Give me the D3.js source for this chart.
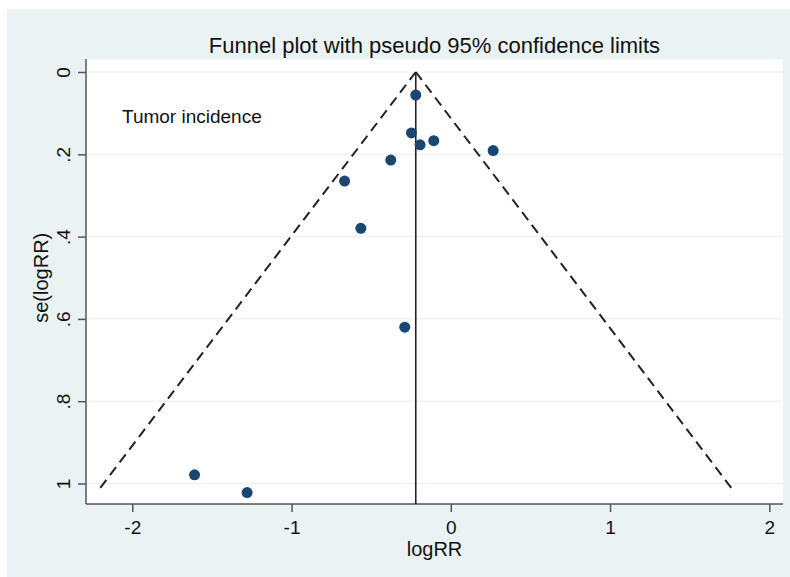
<!DOCTYPE html>
<html>
<head>
<meta charset="utf-8">
<script src="https://cdn.jsdelivr.net/npm/d3@7/dist/d3.min.js"></script>
<style>
  html, body { margin: 0; padding: 0; background: #ffffff; }
  svg { display: block; }
  text { font-family: "Liberation Sans", Arial, sans-serif; fill: #111; }
</style>
</head>
<body>
<svg id="chart" width="790" height="577"></svg>
<script>
// ---- data ----
const logRR   = [-0.22, -0.247, -0.193, -0.107, 0.266, -0.377, -0.667, -0.565, -0.289, -1.609, -1.279];
const seLogRR = [0.056, 0.148, 0.177, 0.167, 0.191, 0.214, 0.265, 0.380, 0.620, 0.979, 1.022];
const pooled  = -0.22;
const xTicks  = [-2, -1, 0, 1, 2];
const yTicks  = [0, 0.2, 0.4, 0.6, 0.8, 1];
const titleText = "Funnel plot with pseudo 95% confidence limits";
const noteText  = "Tumor incidence";
const xLabel = "logRR";
const yLabel = "se(logRR)";

const svg = d3.select("#chart");
const W = 790, H = 577;
const plot = { left: 86, right: 783, top: 59, bottom: 504 };

// outer background
svg.append("rect").attr("x", 7).attr("y", 9).attr("width", W - 7).attr("height", H - 9)
  .attr("fill", "#eaf2f3");
// plot region
svg.append("rect").attr("x", plot.left).attr("y", plot.top)
  .attr("width", plot.right - plot.left).attr("height", plot.bottom - plot.top)
  .attr("fill", "#ffffff");

const x = d3.scaleLinear().domain([-2, 2]).range([132.3, 769.3]);
const y = d3.scaleLinear().domain([0, 1]).range([72, 483.5]);

const fmt = v => {
  if (v === 0) return "0";
  let s = String(+v.toFixed(2));
  s = s.replace(/^(-?)0\./, "$1.");
  return s;
};

// gridlines
svg.append("g").selectAll("line").data(yTicks).join("line")
  .attr("x1", plot.left + 1).attr("x2", plot.right)
  .attr("y1", d => y(d)).attr("y2", d => y(d))
  .attr("stroke", "#eaf2f3").attr("stroke-width", 1.2);

// axes
const xAxis = svg.append("g").attr("transform", `translate(0,${plot.bottom})`)
  .call(d3.axisBottom(x).tickValues(xTicks).tickFormat(fmt).tickSize(8).tickPadding(9));
xAxis.select(".domain").attr("d", `M${plot.left},0H${plot.right}`).attr("stroke", "#555").attr("stroke-width", 1.5);
xAxis.selectAll(".tick line").attr("stroke", "#555").attr("stroke-width", 1.5);
xAxis.selectAll(".tick text").attr("font-size", 19).attr("fill", "#111")
  .attr("font-family", "Liberation Sans, Arial, sans-serif");

const yAxis = svg.append("g").attr("transform", `translate(${plot.left},0)`)
  .call(d3.axisLeft(y).tickValues(yTicks).tickFormat(fmt).tickSize(8).tickPadding(6));
yAxis.select(".domain").attr("d", `M0,${plot.top}V${plot.bottom}`).attr("stroke", "#555").attr("stroke-width", 1.5);
yAxis.selectAll(".tick line").attr("stroke", "#555").attr("stroke-width", 1.5);
yAxis.selectAll(".tick text")
  .attr("font-size", 19).attr("fill", "#111")
  .attr("font-family", "Liberation Sans, Arial, sans-serif")
  .attr("text-anchor", "middle").attr("dy", null).attr("x", null)
  .attr("transform", "translate(-23,0) rotate(-90)")
  .attr("dominant-baseline", "central");

// funnel lines
const seMax = d3.max(seLogRR);
const funnelL = [[pooled, 0], [pooled - 1.96 * seMax, seMax]];
const funnelR = [[pooled, 0], [pooled + 1.96 * seMax, seMax]];
const line = d3.line().x(d => x(d[0])).y(d => y(d[1]));
[funnelL, funnelR].forEach(f => {
  svg.append("path").attr("d", line(f)).attr("fill", "none")
    .attr("stroke", "#222").attr("stroke-width", 2).attr("stroke-dasharray", "10,6");
});
// pooled vertical line
svg.append("line").attr("x1", x(pooled)).attr("x2", x(pooled))
  .attr("y1", y(0)).attr("y2", plot.bottom).attr("stroke", "#222").attr("stroke-width", 1.6);

// points
svg.append("g").selectAll("circle").data(logRR.map((v, i) => [v, seLogRR[i]])).join("circle")
  .attr("cx", d => x(d[0])).attr("cy", d => y(d[1])).attr("r", 5.5)
  .attr("fill", "#1a476f");

// texts
const cx = (plot.left + plot.right) / 2;
svg.append("text").attr("x", cx).attr("y", 53).attr("text-anchor", "middle")
  .attr("font-size", 22).text(titleText);
svg.append("text").attr("x", 122).attr("y", 123).attr("font-size", 19).text(noteText);
svg.append("text").attr("x", cx).attr("y", 556).attr("text-anchor", "middle")
  .attr("font-size", 20).text(xLabel);
svg.append("text").attr("transform", `translate(48,${(y(0.4)+y(0.6))/2}) rotate(-90)`)
  .attr("text-anchor", "middle").attr("font-size", 20).text(yLabel);
</script>
</body>
</html>
